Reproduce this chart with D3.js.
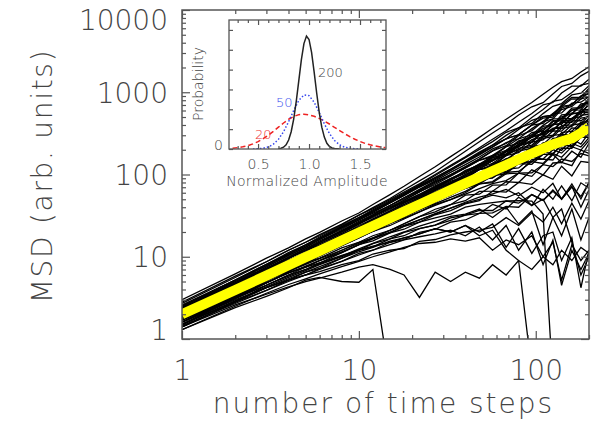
<!DOCTYPE html>
<meta charset="utf-8">
<style>
  body { margin: 0; background: #fff; }
  text { font-family: "DejaVu Sans", sans-serif; font-weight: 200; fill: #444; }
  .run { fill: none; stroke: #000; stroke-width: 1.3px; }
</style>
<svg width="592" height="425"></svg>
<script src="https://cdn.jsdelivr.net/npm/d3@7"></script>
<script>

// time steps at which the MSD curves were read
var timeSteps = [1, 2, 3, 4, 5, 6, 8, 10, 12, 15, 18, 22, 27, 33, 40, 48, 57, 68, 80, 95, 110, 125, 140, 160, 180, 200];

// ensemble mean (yellow)
var meanMSD = [2.0, 3.95, 5.9, 7.9, 9.9, 11.8, 15.8, 19.7, 23.6, 29.5, 35.4, 43.2, 53, 64.5, 78, 93, 110, 130, 153, 180, 206, 232, 252, 275, 320, 378];

// single trajectories (black), null = curve has left the plot
var msdRuns = [
  [3, 6.2, 9.6, 12.8, 16.5, 19.8, 27.2, 34, 43.2, 57, 72, 94.6, 124, 165, 216, 283, 365, 469, 592, 750, 946, 1150, 1344, 1472, 1764, 2040],
  [2.7, 5.6, 8.7, 12, 15, 18.6, 24.8, 32, 39.6, 51, 64.8, 83.6, 108, 145, 192, 250, 319, 408, 528, 665, 748, 950, 1176, 1280, 1584, 1800],
  [2.8, 5.8, 8.7, 12, 15, 18, 24.8, 32, 38.4, 49.5, 61.2, 77, 99.9, 129, 164, 211, 268, 340, 432, 551, 704, 750, 980, 1184, 1188, 1440],
  [2.5, 5.2, 8.1, 11.2, 14, 17.4, 24, 30, 37.2, 48, 59.4, 74.8, 97.2, 125, 160, 202, 251, 326, 368, 494, 616, 775, 812, 992, 1224, 1280],
  [2.6, 5.2, 8.1, 10.8, 14, 16.8, 23.2, 29, 36, 46.5, 57.6, 72.6, 91.8, 116, 148, 187, 228, 299, 368, 418, 550, 675, 728, 928, 972, 1200],
  [2.3, 4.8, 7.5, 10.4, 13, 16.2, 22.4, 28, 34.8, 45, 55.8, 70.4, 89.1, 112, 144, 182, 228, 272, 352, 456, 506, 525, 700, 864, 864, 1120],
  [2.4, 5, 7.8, 10.8, 13.5, 16.8, 23.2, 30, 36, 46.5, 57.6, 72.6, 92, 116, 144, 178, 217, 272, 304, 399, 484, 500, 644, 704, 900, 960],
  [2, 4.2, 6.6, 8.8, 11.5, 14.4, 19.2, 25, 31.2, 39, 48.6, 61.6, 75.6, 95.7, 120, 149, 171, 218, 272, 304, 396, 475, 476, 640, 648, 840],
  [1.8, 3.8, 6, 8, 10.5, 12.6, 17.6, 22, 27.6, 34.5, 43.2, 52.8, 67.5, 85.8, 104, 130, 160, 177, 232, 285, 308, 400, 476, 480, 576, 700],
  [2.2, 4.4, 6.9, 9.6, 12, 15, 20.8, 26, 32.4, 42, 50.4, 63.8, 81, 99, 124, 154, 194, 245, 272, 361, 440, 550, 560, 736, 756, 880],
  [1.6, 3.4, 5.4, 7.2, 9.5, 11.4, 16, 20, 24, 31.5, 37.8, 48.4, 59.4, 72.6, 92, 115, 131, 170, 208, 228, 297, 363, 364, 480, 576, 560],
  [2.4, 4.8, 7.2, 10, 12.5, 15.6, 20.8, 27, 32.4, 42, 52.2, 66, 83.7, 106, 132, 163, 205, 238, 304, 399, 418, 550, 672, 704, 900, 1040],
  [1.9, 3.8, 5.7, 7.6, 9.5, 11.4, 15.2, 19, 22.8, 28.5, 34.2, 41.8, 51.3, 62.7, 76, 91.2, 103, 136, 144, 200, 209, 275, 280, 368, 360, 480],
  [1.7, 3.6, 5.4, 7.2, 9, 10.2, 13.6, 17, 20.4, 24, 28.8, 35.2, 43.2, 49.5, 60, 76.8, 79.8, 102, 104, 152, 154, 150, 210, 208, 288, 280],
  [2.1, 4.4, 6.6, 8.8, 11, 13.2, 18.4, 23, 27.6, 36, 43.2, 52.8, 67.5, 82.5, 96, 125, 154, 170, 224, 247, 330, 338, 448, 464, 612, 620],
  [1.5, 3.2, 5.1, 6.8, 8.5, 10.8, 14.4, 18, 21.6, 27, 30.6, 37.4, 45.9, 59.4, 68, 76.8, 96.9, 102, 136, 133, 176, 225, 196, 272, 234, 320],
  [2, 4, 6, 8.4, 10.5, 12.6, 16.8, 22, 26.4, 33, 39.6, 46.2, 56.7, 72.6, 88, 96, 125, 143, 152, 209, 220, 225, 294, 304, 396, 480],
  [1.8, 3.6, 5.4, 6.8, 8.5, 9.6, 12.8, 15, 18, 21, 25.2, 30.8, 35.1, 42.9, 48, 62.4, 62.7, 81.6, 80, 114, 99, 138, 140, 128, 198, 180],
  [2.3, 4.8, 7.5, 10.4, 13, 16.2, 21.6, 28, 33.6, 42, 52.2, 63.8, 81, 99, 120, 149, 165, 218, 240, 323, 341, 450, 448, 608, 612, 780],
  [1.6, 3.2, 4.8, 6.4, 7.5, 9, 12, 15, 16.8, 21, 25.2, 30.8, 37.8, 42.9, 56, 57.6, 74.1, 74.8, 104, 95, 132, 175, 140, 192, 162, 240],
  [2.5, 5.2, 7.8, 10.8, 13.5, 16.8, 22.4, 29, 34.8, 45, 55.8, 70.4, 86.4, 112, 140, 173, 217, 272, 304, 399, 506, 525, 672, 832, 828, 1000],
  [1.4, 2.8, 4.5, 6, 7.5, 8.4, 11.2, 14, 16.8, 19.5, 23.4, 26.4, 32.4, 36.3, 44, 48, 62.7, 61.2, 80, 76, 99, 87.5, 126, 96, 144, 140],
  [2, 4.2, 6.3, 8.8, 11, 13.8, 18.4, 24, 28.8, 36, 45, 55, 70.2, 85.8, 108, 125, 160, 177, 232, 257, 330, 350, 434, 432, 576, 600],
  [1.8, 3.8, 5.7, 8, 10, 12, 16, 20, 22.8, 28.5, 34.2, 39.6, 48.6, 59.4, 68, 86.4, 91.2, 116, 120, 162, 154, 200, 182, 240, 216, 280],
  [2.2, 4.6, 7.2, 9.6, 12, 15, 20, 25, 31.2, 39, 46.8, 57.2, 72.9, 89.1, 108, 134, 148, 197, 216, 295, 308, 413, 406, 560, 540, 740],
  [2, 4, 6, 8, 10, 12, 16, 20, 24, 30, 36, 44, 54, 66, 80, 101, 108, 150, 160, 219, 231, 300, 308, 400, 414, 520],
  [2.2, 4.4, 6.6, 8.8, 11, 13.2, 17.6, 22, 26.4, 33.6, 41.4, 50.6, 64.8, 79.2, 100, 115, 148, 170, 224, 247, 330, 338, 434, 464, 576, 600],
  [1.8, 3.6, 5.4, 7.2, 9, 10.8, 14.4, 18, 21.6, 27, 32.4, 39.6, 47.5, 59.4, 68, 86.4, 91.2, 122, 136, 181, 176, 250, 238, 336, 324, 440],
  [2.4, 4.8, 7.2, 9.6, 12, 14.4, 19.2, 25, 30, 37.5, 46.8, 57.2, 70.2, 89.1, 108, 134, 165, 190, 248, 285, 363, 400, 504, 544, 684, 800],
  [1.7, 3.5, 5.4, 7.4, 9.5, 11.4, 15.5, 20, 24, 30, 36, 44.9, 56.7, 69.3, 88, 101, 131, 150, 192, 209, 275, 288, 364, 384, 486, 500],
  [2.1, 4.2, 6.3, 8.4, 10.5, 12.6, 16.8, 21, 25.2, 31.5, 37.8, 46.2, 56.7, 66, 84, 91.2, 114, 122, 152, 162, 198, 200, 238, 240, 288, 280],
  [1.9, 4, 6, 8.4, 10.5, 13.2, 17.6, 22, 27.6, 34.5, 41.4, 50.6, 64.8, 79.2, 92, 120, 137, 177, 200, 266, 286, 363, 378, 480, 504, 620],
  [1.6, 3.3, 5.1, 6.8, 8.8, 10.6, 14.4, 18, 21.6, 26.4, 31, 37.4, 44.3, 52.8, 62.4, 76.8, 82.1, 106, 109, 143, 136, 180, 162, 218, 198, 260],
  [2.3, 4.6, 6.6, 8.8, 11, 13.2, 17.6, 21, 25.2, 31.5, 37.8, 44, 54, 66, 84, 91.2, 120, 122, 160, 181, 242, 250, 322, 336, 432, 440],
  [2, 4, 6.3, 8.4, 11, 13.2, 18.4, 23, 28.8, 36, 45, 55, 70.2, 85.8, 112, 130, 171, 197, 256, 285, 385, 400, 532, 544, 720, 740],
  [1.8, 3.7, 5.7, 7.6, 9.8, 12, 16, 20.4, 25.2, 32.4, 39.6, 48.4, 60.5, 75.9, 88, 115, 125, 170, 184, 247, 264, 338, 336, 448, 450, 520],
  [2.2, 4.3, 6.3, 8.2, 10, 11.8, 15.2, 19, 22.1, 27, 32.4, 38.7, 47.5, 56.1, 68, 78.7, 100, 106, 136, 143, 176, 175, 238, 218, 288, 280],
  [2.5, 5, 7.2, 9.6, 12, 13.8, 18.4, 23, 27.6, 33, 39.6, 48.4, 59.4, 72.6, 92, 101, 137, 150, 200, 219, 286, 300, 392, 400, 522, 540],
  [1.9, 3.8, 5.5, 7.4, 9, 10.8, 14.1, 17.6, 20.4, 25.5, 29.5, 35.2, 42.1, 49.5, 57.6, 67.2, 77.5, 84.3, 104, 105, 132, 125, 154, 144, 180, 168],
  [2.1, 4.4, 6.9, 9.6, 12, 15, 20, 26, 31.2, 40.5, 48.6, 61.6, 78.3, 99, 124, 154, 194, 224, 296, 342, 440, 475, 616, 672, 828, 880],
  [1.8, 3.6, 5.5, 7.6, 9.5, 11.8, 16, 20, 24, 29.4, 34.2, 41.8, 49.7, 59.4, 73.6, 81.6, 103, 109, 141, 143, 187, 180, 224, 224, 281, 300],
  [2.3, 4.7, 7.2, 9.8, 12.5, 15, 20.5, 26, 31.2, 39, 46.1, 55, 65.9, 79.2, 92, 115, 125, 156, 168, 209, 220, 263, 266, 320, 324, 380],
  [2, 4, 6.1, 8.2, 10.5, 12.6, 16.8, 21, 25.9, 33, 40.3, 50.6, 63.7, 79.2, 100, 125, 146, 188, 216, 285, 319, 400, 420, 544, 576, 700],
  [1.5, 3.1, 4.8, 6.6, 8.2, 10.2, 13.6, 17, 20.4, 25.5, 30.6, 37.4, 47.5, 56.1, 72, 81.6, 108, 116, 160, 171, 231, 230, 308, 304, 414, 400],
  [2.4, 4.8, 6.9, 9.2, 11, 13.2, 17.3, 21, 25.2, 31.5, 38.9, 48.4, 60.5, 75.9, 96, 120, 148, 190, 232, 304, 341, 438, 476, 608, 648, 800],
  [1.3, 2.4, 3.3, 4.2, 5.2, 5.6, 5.0, 4.9, 7.0, 0.3, null, null, null, null, null, null, null, null, null, null, null, null, null, null, null, null],
  [1.4, 2.8, 3.9, 5.2, 6, 7.2, 8.8, 11, 12, 15, 16.2, 19.8, 21.6, 26.4, 28, 33.6, 34.2, 40.8, 40, 57, 48.4, 62.5, 50.4, 70.4, 54, 80],
  [1.6, 3, 4.2, 5.2, 6, 6.6, 8, 9, 10.8, 12, 12.6, 15.4, 16.2, 18.5, 20, 21.1, 22.8, 29.9, 24, 34.2, 26.4, 40, 25.2, 44.8, 28.8, 48],
  [1.5, 2.9, 4.2, 5.4, 6.5, 7.6, 9.6, 11.5, 13, 15.5, 17, 19, 22, 20, 24, 18, 21, 12, 9, 0.4, null, null, null, null, null, null],
  [1.5, 2.8, 4.2, 5.2, 6.5, 7.2, 9.6, 12, 13.2, 16.5, 18, 22, 24.3, 27.7, 32, 36.5, 36.5, 47.6, 44.8, 57, 48.4, 65, 50.4, 76.8, 50.4, 80],
  [1.8, 3.4, 4.8, 6.4, 7.5, 9, 11.2, 14, 15.6, 19.5, 21.6, 26.4, 29.7, 33, 40, 43.2, 45.6, 47.6, 48, 47.5, 33, 0.3, null, null, null, null],
  [1.7, 3.2, 4.5, 6, 7, 8.4, 10.4, 12, 14.4, 16.5, 19.8, 22, 24.3, 29.7, 32, 33.6, 43.3, 38.1, 52.8, 41.8, 66, 50, 72.8, 48, 79.2, 68],
  [1.4, 2.6, 3.5, 4.3, 5.0, 5.5, 6.5, 7.5, 8.0, 7.0, 6.0, 3.2, 6.5, 5.0, 6.5, 5.5, 8, 6, 9, 7, 10, 8, 12, 9, 13, 11],
  [1.3, 2.5, 3.6, 4.6, 5.4, 6.2, 7.6, 8.8, 10, 11.5, 13, 14.5, 15, 16.5, 15.5, 17, 12, 16, 14, 18, 10, 15, 5.2, 14, 9, 12],
  [1.6, 3.1, 4.5, 5.8, 7, 8.2, 10.2, 12.5, 14.5, 17.5, 20, 23.5, 27, 31, 33, 38, 30, 40, 25, 36, 14, 30, 18, 38, 16, 30],
  [1.5, 2.9, 4.3, 5.6, 6.8, 8, 10, 12, 13.5, 15, 17, 19, 22, 20, 24, 20, 25, 13, 22, 11, 18, 20, 9, 17, 4.2, 12],
  [1.7, 3.3, 4.9, 6.3, 7.7, 9, 11.5, 14, 16.5, 20, 23.5, 28, 33.5, 39, 46, 53, 58, 66, 55, 70, 60, 78, 50, 72, 40, 65],
  [1.9, 3.6, 5.2, 6.7, 8.1, 9.5, 12, 14.5, 17, 21, 24, 28, 33, 39, 45, 50, 56, 52, 60, 42, 50, 30, 38, 15, 6, 10],
  [1.45, 2.7, 3.9, 5.0, 6.0, 7.0, 8.8, 10.5, 12, 14, 16, 17.5, 19, 21, 18, 23, 16, 24, 12, 20, 8, 16, 4.5, 12, 7, 11]
];

var xMajor = [1, 10, 100];
var xMinor = [2, 3, 4, 5, 6, 7, 8, 9, 20, 30, 40, 50, 60, 70, 80, 90, 200];
var yMajor = [1, 10, 100, 1000, 10000];
var yMinor = [2, 3, 4, 5, 6, 7, 8, 9, 20, 30, 40, 50, 60, 70, 80, 90,
  200, 300, 400, 500, 600, 700, 800, 900, 2000, 3000, 4000, 5000, 6000, 7000, 8000, 9000];

// inset: amplitude distributions after 20, 50 and 200 steps
var ampX = [0.25, 0.3, 0.35, 0.4, 0.45, 0.5, 0.55, 0.6, 0.65, 0.7, 0.75, 0.8, 0.85, 0.9, 0.95, 1.0,
  1.05, 1.1, 1.15, 1.2, 1.25, 1.3, 1.35, 1.4, 1.45, 1.5, 1.55, 1.6, 1.65, 1.7, 1.75];
var prob20 = [0.04, 0.07, 0.11, 0.17, 0.26, 0.37, 0.52, 0.69, 0.89, 1.10, 1.31, 1.50, 1.64, 1.73, 1.75, 1.72,
  1.65, 1.54, 1.41, 1.26, 1.09, 0.93, 0.77, 0.62, 0.49, 0.38, 0.28, 0.21, 0.15, 0.10, 0.07];
var ampX50 = [0.45, 0.5, 0.55, 0.6, 0.65, 0.7, 0.75, 0.8, 0.85, 0.9, 0.95, 1.0, 1.05, 1.1, 1.15, 1.2,
  1.25, 1.3, 1.35, 1.4, 1.45, 1.5];
var prob50 = [0.0, 0.01, 0.04, 0.10, 0.24, 0.49, 0.87, 1.38, 1.95, 2.45, 2.72, 2.69, 2.36, 1.84, 1.27, 0.78,
  0.43, 0.21, 0.09, 0.04, 0.01, 0.0];
var ampX200 = [0.7, 0.725, 0.75, 0.775, 0.8, 0.825, 0.85, 0.875, 0.9, 0.925, 0.95, 0.975, 1.0, 1.025, 1.05,
  1.075, 1.1, 1.125, 1.15, 1.175, 1.2, 1.225, 1.25, 1.275, 1.3];
var prob200 = [0.01, 0.04, 0.09, 0.21, 0.45, 0.87, 1.52, 2.41, 3.46, 4.50, 5.31, 5.69, 5.52, 4.87, 3.89,
  2.82, 1.85, 1.10, 0.60, 0.29, 0.13, 0.05, 0.02, 0.01, 0.0];
var ampMajor = [0.5, 1.0, 1.5];
var ampMinor = [0.3, 0.4, 0.6, 0.7, 0.8, 0.9, 1.1, 1.2, 1.3, 1.4, 1.6, 1.7];
var probTicks = [0, 1, 2, 3, 4, 5, 6];

var svg = d3.select("svg"),
    pLeft = 182, pRight = 589, pTop = 10, pBottom = 339;

var x = d3.scaleLog().domain([1, 200]).range([pLeft, pRight]),
    y = d3.scaleLog().domain([1, 10000]).range([pBottom, pTop]);

svg.append("clipPath").attr("id", "plotclip").append("rect")
    .attr("x", pLeft).attr("y", pTop).attr("width", pRight - pLeft).attr("height", pBottom - pTop);

var line = d3.line()
    .defined(function(d) { return d[1] != null; })
    .x(function(d) { return x(d[0]); })
    .y(function(d) { return y(d[1]); });

var plot = svg.append("g").attr("clip-path", "url(#plotclip)");

plot.selectAll(".run")
    .data(msdRuns)
    .enter().append("path")
    .attr("class", "run")
    .attr("d", function(r) { return line(r.map(function(v, i) { return [timeSteps[i], v]; })); });

plot.append("path")
    .attr("d", line(meanMSD.map(function(v, i) { return [timeSteps[i], v]; })))
    .attr("fill", "none")
    .attr("stroke", "#ffff00")
    .attr("stroke-width", 10);

// axes: ticks inside on all four sides
function addAxis(axis, tx, ty) {
    var g = svg.append("g")
        .attr("transform", "translate(" + tx + "," + ty + ")")
        .attr("color", "#555")
        .call(axis);
    g.select(".domain").remove();
    g.selectAll("line").attr("stroke-width", 1.2);
    return g;
}

var xb = addAxis(d3.axisBottom(x).tickValues(xMajor).tickSize(-8).tickPadding(21).tickFormat(d3.format("d")), 0, pBottom);
xb.selectAll("text").style("font-size", "28px");
addAxis(d3.axisBottom(x).tickValues(xMinor).tickSize(-4).tickFormat(""), 0, pBottom);
addAxis(d3.axisTop(x).tickValues(xMajor).tickSize(-8).tickFormat(""), 0, pTop);
addAxis(d3.axisTop(x).tickValues(xMinor).tickSize(-4).tickFormat(""), 0, pTop);

var yl = addAxis(d3.axisLeft(y).tickValues(yMajor).tickSize(-8).tickPadding(14).tickFormat(d3.format("d")), pLeft, 0);
yl.selectAll("text").style("font-size", "28px")
    .attr("dy", function(d) { return d === 10000 ? "0.71em" : d === 1 ? "0em" : "0.36em"; });
addAxis(d3.axisLeft(y).tickValues(yMinor).tickSize(-4).tickFormat(""), pLeft, 0);
addAxis(d3.axisRight(y).tickValues(yMajor).tickSize(-8).tickFormat(""), pRight, 0);
addAxis(d3.axisRight(y).tickValues(yMinor).tickSize(-4).tickFormat(""), pRight, 0);

svg.append("rect")
    .attr("x", pLeft).attr("y", pTop).attr("width", pRight - pLeft).attr("height", pBottom - pTop)
    .attr("fill", "none").attr("stroke", "#555").attr("stroke-width", 1.5);

svg.append("text")
    .attr("x", (pLeft + pRight) / 2 - 2).attr("y", 413)
    .attr("text-anchor", "middle")
    .style("font-size", "28px").style("letter-spacing", "2px")
    .text("number of time steps");

svg.append("text")
    .attr("transform", "translate(52,176) rotate(-90)")
    .attr("text-anchor", "middle")
    .style("font-size", "28px").style("letter-spacing", "1.7px")
    .text("MSD (arb. units)");

// inset
var iLeft = 229, iRight = 386, iTop = 20, iBottom = 149;
var ix = d3.scaleLinear().domain([0.215, 1.755]).range([iLeft, iRight]),
    iy = d3.scaleLinear().domain([0, 6.5]).range([iBottom, iTop]);

svg.append("rect")
    .attr("x", iLeft).attr("y", iTop).attr("width", iRight - iLeft).attr("height", iBottom - iTop)
    .attr("fill", "#fff");

svg.append("clipPath").attr("id", "insetclip").append("rect")
    .attr("x", iLeft).attr("y", iTop).attr("width", iRight - iLeft).attr("height", iBottom - iTop);

var iline = d3.line()
    .x(function(d) { return ix(d[0]); })
    .y(function(d) { return iy(d[1]); });

var inset = svg.append("g").attr("clip-path", "url(#insetclip)");

function pairs(xs, ys) { return xs.map(function(v, i) { return [v, ys[i]]; }); }

inset.append("path").attr("d", iline(pairs(ampX, prob20)))
    .attr("fill", "none").attr("stroke", "#ee2222").attr("stroke-width", 1.5)
    .attr("stroke-dasharray", "5,3");
inset.append("path").attr("d", iline(pairs(ampX50, prob50)))
    .attr("fill", "none").attr("stroke", "#3344ee").attr("stroke-width", 1.5)
    .attr("stroke-dasharray", "1.5,2");
inset.append("path").attr("d", iline(pairs(ampX200, prob200)))
    .attr("fill", "none").attr("stroke", "#222").attr("stroke-width", 1.5);

var ib = addAxis(d3.axisBottom(ix).tickValues(ampMajor).tickSize(-5).tickPadding(10).tickFormat(d3.format(".1f")), 0, iBottom);
ib.selectAll("text").style("font-size", "14px");
addAxis(d3.axisBottom(ix).tickValues(ampMinor).tickSize(-3).tickFormat(""), 0, iBottom);
addAxis(d3.axisTop(ix).tickValues(ampMajor).tickSize(-5).tickFormat(""), 0, iTop);
addAxis(d3.axisTop(ix).tickValues(ampMinor).tickSize(-3).tickFormat(""), 0, iTop);
var il = addAxis(d3.axisLeft(iy).tickValues(probTicks).tickSize(-4).tickPadding(6)
    .tickFormat(function(d) { return d === 0 ? "0" : ""; }), iLeft, 0);
il.selectAll("text").style("font-size", "14px").attr("dy", "0em");
addAxis(d3.axisRight(iy).tickValues(probTicks).tickSize(-4).tickFormat(""), iRight, 0);

svg.append("rect")
    .attr("x", iLeft).attr("y", iTop).attr("width", iRight - iLeft).attr("height", iBottom - iTop)
    .attr("fill", "none").attr("stroke", "#555").attr("stroke-width", 1.3);

svg.append("text").attr("x", 318).attr("y", 77).style("font-size", "13px").text("200");
svg.append("text").attr("x", 276).attr("y", 107).style("font-size", "13px").style("fill", "#4455ee").text("50");
svg.append("text").attr("x", 255).attr("y", 139).style("font-size", "13px").style("fill", "#ee3333").text("20");

svg.append("text")
    .attr("x", 307).attr("y", 186)
    .attr("text-anchor", "middle")
    .style("font-size", "14px").style("letter-spacing", "0.3px")
    .text("Normalized Amplitude");

svg.append("text")
    .attr("transform", "translate(203,84) rotate(-90)")
    .attr("text-anchor", "middle")
    .style("font-size", "14px")
    .text("Probability");

</script>
